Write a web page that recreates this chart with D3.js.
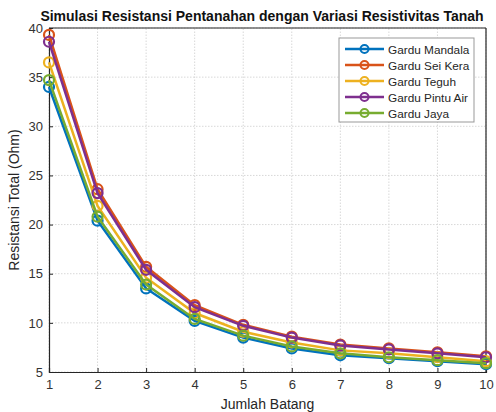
<!DOCTYPE html>
<html>
<head>
<meta charset="utf-8">
<script src="https://cdn.jsdelivr.net/npm/d3@7"></script>
<style>
body { margin: 0; background: #fff; }
text { font-family: "Liberation Sans", Arial, sans-serif; }
</style>
</head>
<body>
<svg id="chart1"></svg>
<script>
var batang = [1, 2, 3, 4, 5, 6, 7, 8, 9, 10];
var names = ["Gardu Mandala", "Gardu Sei Kera", "Gardu Teguh", "Gardu Pintu Air", "Gardu Jaya"];
var mandala = [34.0, 20.4, 13.5, 10.2, 8.5, 7.4, 6.7, 6.4, 6.1, 5.8];
var seiKera = [39.3, 23.6, 15.7, 11.8, 9.8, 8.6, 7.8, 7.4, 7.0, 6.6];
var teguh = [36.5, 21.9, 14.6, 11.0, 9.1, 8.0, 7.2, 6.9, 6.5, 6.1];
var pintuAir = [38.6, 23.2, 15.4, 11.6, 9.7, 8.5, 7.7, 7.3, 6.9, 6.5];
var jaya = [34.7, 20.8, 13.9, 10.4, 8.7, 7.6, 6.9, 6.5, 6.2, 5.9];
var colors = ["#0072BD", "#D95319", "#EDB120", "#7E2F8E", "#77AC30"];
var yTicks = [5, 10, 15, 20, 25, 30, 35, 40];

var series = [mandala, seiKera, teguh, pintuAir, jaya];

var width = 496, height = 412;
var margin = {top: 28, right: 10, bottom: 40, left: 49};

var svg = d3.select('#chart1')
	.attr("width", width)
	.attr("height", height);

var x = d3.scaleLinear().domain([1, 10]).range([margin.left, width - margin.right]);
var y = d3.scaleLinear().domain([5, 40]).range([height - margin.bottom, margin.top]);

// grid
svg.append("g").selectAll("line")
	.data(batang)
	.enter().append("line")
	.attr("x1", function (d) { return x(d); })
	.attr("x2", function (d) { return x(d); })
	.attr("y1", y(5))
	.attr("y2", y(40))
	.style("stroke", "#d8d8d8")
	.style("stroke-dasharray", "1.5,1.5")
	.style("stroke-width", 1);

svg.append("g").selectAll("line")
	.data(yTicks)
	.enter().append("line")
	.attr("x1", x(1))
	.attr("x2", x(10))
	.attr("y1", function (d) { return y(d); })
	.attr("y2", function (d) { return y(d); })
	.style("stroke", "#d8d8d8")
	.style("stroke-dasharray", "1.5,1.5")
	.style("stroke-width", 1);

// axes
var xAxis = d3.axisBottom(x).tickValues(batang).tickSize(-4).tickPadding(8).tickFormat(d3.format("d"));
var yAxis = d3.axisLeft(y).tickValues(yTicks).tickSize(-4).tickPadding(6);

var gx = svg.append("g")
	.attr("transform", "translate(0," + y(5) + ")")
	.call(xAxis);
var gy = svg.append("g")
	.attr("transform", "translate(" + x(1) + ",0)")
	.call(yAxis);

[gx, gy].forEach(function (g) {
	g.select(".domain").style("stroke", "#262626").style("stroke-width", 1.2);
	g.selectAll(".tick line").style("stroke", "#262626");
	g.selectAll(".tick text")
		.style("font-size", "13px")
		.style("fill", "#333");
});

// box top / right
svg.append("line")
	.attr("x1", x(1)).attr("x2", x(10))
	.attr("y1", y(40)).attr("y2", y(40))
	.style("stroke", "#262626").style("stroke-width", 1.2);
svg.append("line")
	.attr("x1", x(10)).attr("x2", x(10))
	.attr("y1", y(40)).attr("y2", y(5))
	.style("stroke", "#262626").style("stroke-width", 1.2);

// lines
var line = d3.line()
	.x(function (d, i) { return x(batang[i]); })
	.y(function (d) { return y(d); });

series.forEach(function (s, k) {
	var g = svg.append("g");
	g.append("path")
		.datum(s)
		.attr("d", line)
		.style("fill", "none")
		.style("stroke", colors[k])
		.style("stroke-width", 2.5);
	g.selectAll("circle")
		.data(s)
		.enter().append("circle")
		.attr("cx", function (d, i) { return x(batang[i]); })
		.attr("cy", function (d) { return y(d); })
		.attr("r", 5)
		.style("fill", "none")
		.style("stroke", colors[k])
		.style("stroke-width", 2.2);
});

// title and labels
svg.append("text")
	.attr("x", 262)
	.attr("y", 21)
	.attr("text-anchor", "middle")
	.style("font-size", "14px")
	.style("font-weight", "bold")
	.style("fill", "#111")
	.text("Simulasi Resistansi Pentanahan dengan Variasi Resistivitas Tanah");

svg.append("text")
	.attr("x", (x(1) + x(10)) / 2)
	.attr("y", 409)
	.attr("text-anchor", "middle")
	.style("font-size", "14px")
	.style("fill", "#262626")
	.text("Jumlah Batang");

svg.append("text")
	.attr("transform", "translate(19," + ((y(5) + y(40)) / 2) + ") rotate(-90)")
	.attr("text-anchor", "middle")
	.style("font-size", "14px")
	.style("fill", "#262626")
	.text("Resistansi Total (Ohm)");

// legend
var lg = svg.append("g").attr("transform", "translate(339,38)");
lg.append("rect")
	.attr("width", 135)
	.attr("height", 84)
	.style("fill", "#fff")
	.style("stroke", "#999")
	.style("stroke-width", 1);

var items = lg.selectAll("g.item")
	.data(names)
	.enter().append("g")
	.attr("transform", function (d, i) { return "translate(0," + (11 + i * 16) + ")"; });
items.append("line")
	.attr("x1", 6).attr("x2", 45)
	.style("stroke", function (d, i) { return colors[i]; })
	.style("stroke-width", 2.5);
items.append("circle")
	.attr("cx", 25.5).attr("r", 4)
	.style("fill", "none")
	.style("stroke", function (d, i) { return colors[i]; })
	.style("stroke-width", 2);
items.append("text")
	.attr("x", 49)
	.attr("y", 4.5)
	.style("font-size", "11.8px")
	.style("fill", "#262626")
	.text(function (d) { return d; });
</script>
</body>
</html>
